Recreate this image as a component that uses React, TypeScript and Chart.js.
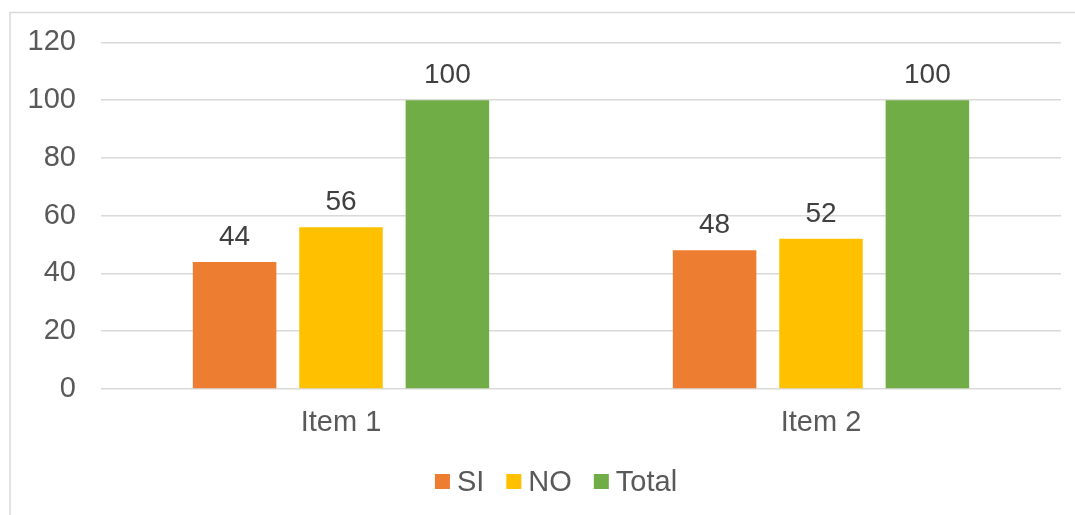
import React, { useEffect, useRef } from "react";
import { Chart, registerables } from "chart.js";

Chart.register(...registerables);

const categories = ["Item 1", "Item 2"];
const seriesNames = ["SI", "NO", "Total"];
const siValues = [44, 48];
const noValues = [56, 52];
const totalValues = [100, 100];
const seriesColors = ["#ED7D31", "#FFC000", "#70AD47"];
const yTicks = [0, 20, 40, 60, 80, 100, 120];

const FONT = "'Liberation Sans', Arial, sans-serif";

const frameBorder = {
  id: "frameBorder",
  beforeDraw(chart: any) {
    const ctx = chart.ctx;
    ctx.save();
    ctx.fillStyle = "#ffffff";
    ctx.fillRect(0, 0, chart.width, chart.height);
    ctx.strokeStyle = "#D9D9D9";
    ctx.lineWidth = 1.5;
    ctx.strokeRect(10, 12.5, chart.width + 20, chart.height + 20);
    ctx.restore();
  },
};

const dataLabels = {
  id: "dataLabels",
  afterDatasetsDraw(chart: any) {
    const ctx = chart.ctx;
    ctx.save();
    ctx.font = `28px ${FONT}`;
    ctx.fillStyle = "#404040";
    ctx.textAlign = "center";
    ctx.textBaseline = "alphabetic";
    chart.data.datasets.forEach((ds: any, i: number) => {
      const meta = chart.getDatasetMeta(i);
      meta.data.forEach((bar: any, j: number) => {
        ctx.fillText(String(ds.data[j]), bar.x, bar.y - 17);
      });
    });
    ctx.restore();
  },
};

// Excel-style legend: square, small gap, text; centred on the (wider) chart frame
const bottomLegend = {
  id: "bottomLegend",
  afterDraw(chart: any) {
    const ctx = chart.ctx;
    const box = 15, gap = 7, spacing = 22, centerX = 556, centerY = 481.5;
    ctx.save();
    ctx.font = `29px ${FONT}`;
    const items = chart.data.datasets.map((ds: any) => ({
      label: ds.label,
      color: ds.backgroundColor,
      w: ctx.measureText(ds.label).width,
    }));
    const total = items.reduce((s: number, it: any) => s + box + gap + it.w, 0) + spacing * (items.length - 1);
    let x = centerX - total / 2;
    ctx.textBaseline = "alphabetic";
    ctx.textAlign = "left";
    items.forEach((it: any) => {
      ctx.fillStyle = it.color;
      ctx.fillRect(x, centerY - box / 2, box, box);
      ctx.fillStyle = "#595959";
      ctx.fillText(it.label, x + box + gap, centerY + 9.5);
      x += box + gap + it.w + spacing;
    });
    ctx.restore();
  },
};

export default function App() {
  const ref = useRef<HTMLCanvasElement>(null);
  useEffect(() => {
    if (!ref.current) return;
    const values = [siValues, noValues, totalValues];
    const chart = new Chart(ref.current, {
      type: "bar",
      data: {
        labels: categories,
        datasets: seriesNames.map((name, i) => ({
          label: name,
          data: values[i],
          backgroundColor: seriesColors[i],
          borderWidth: 0,
          categoryPercentage: 0.665,
          barPercentage: 0.785,
        })),
      },
      options: {
        animation: false,
        responsive: false,
        layout: { padding: { top: 42, right: 14, bottom: 60, left: 0 } },
        scales: {
          x: {
            grid: { display: false, drawTicks: false },
            border: { display: false },
            ticks: { color: "#595959", font: { family: FONT, size: 29 }, padding: 17 },
            afterFit: (s: any) => { s.height = 66; },
          },
          y: {
            min: 0,
            max: 120,
            afterBuildTicks: (s: any) => { s.ticks = yTicks.map((v) => ({ value: v })); },
            grid: { color: "#D9D9D9", lineWidth: 1.5, drawTicks: false },
            border: { display: false },
            ticks: { color: "#595959", font: { family: FONT, size: 29 }, padding: 25 },
            afterFit: (s: any) => { s.width = 101; },
          },
        },
        plugins: {
          legend: { display: false },
          tooltip: { enabled: false },
        },
      },
      plugins: [frameBorder, dataLabels, bottomLegend],
    });
    return () => chart.destroy();
  }, []);
  return (
    <div style={{ position: "fixed", left: 0, top: 0, width: 1075, height: 515, background: "#fff" }}>
      <canvas ref={ref} width={1075} height={515} style={{ display: "block" }} />
    </div>
  );
}
